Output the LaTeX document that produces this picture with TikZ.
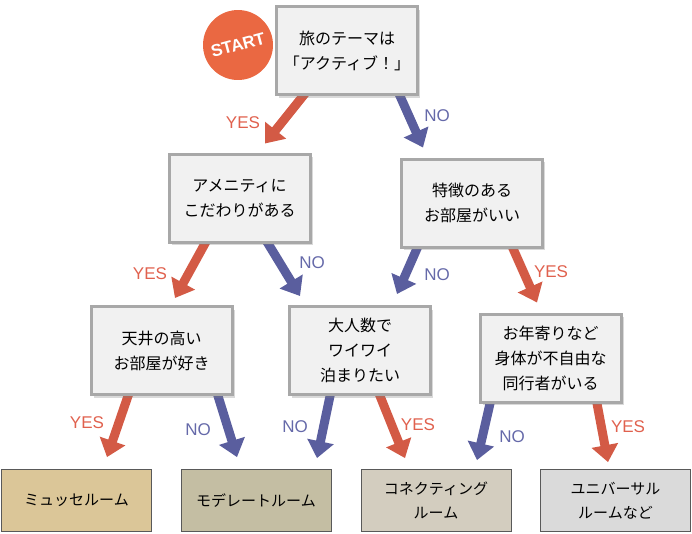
\documentclass[tikz,border=0pt]{standalone}
\usepackage{fontspec}
\setmainfont{Liberation Sans}
\newfontfamily\jpfont{Noto Sans CJK JP}
\usepackage{xcolor}
\usepackage{tikz}
\usetikzlibrary{arrows.meta,shadows,backgrounds}

\definecolor{yescol}{HTML}{D35A45}
\definecolor{nocol}{HTML}{5A5E9E}
\definecolor{yestext}{HTML}{E0614E}
\definecolor{notext}{HTML}{6569A9}
\definecolor{startcol}{HTML}{EA6842}
\definecolor{qfill}{HTML}{F1F1F1}
\definecolor{qline}{HTML}{A8A8A8}
\definecolor{roomA}{HTML}{DBC698}
\definecolor{roomB}{HTML}{C4BEA3}
\definecolor{roomC}{HTML}{D3CDBF}
\definecolor{roomD}{HTML}{DADADA}

\begin{document}
\begin{tikzpicture}[x=1pt,y=-1pt,
    question/.style={draw=qline, line width=3pt, fill=qfill, minimum width=141pt, minimum height=88pt,
      align=center, font=\jpfont\fontsize{16}{25}\selectfont,
      drop shadow={shadow xshift=2.5pt, shadow yshift=-3pt, opacity=0.3}},
    room/.style={draw=black!65, line width=0.8pt, minimum width=150pt, minimum height=62pt,
      align=center, font=\jpfont\fontsize{15}{24}\selectfont},
    yesarrow/.style={yescol, line width=9pt, -{Triangle[length=17pt,width=26pt]}, shorten <=-10pt},
    noarrow/.style={nocol, line width=9pt, -{Triangle[length=17pt,width=26pt]}, shorten <=-10pt},
    yeslabel/.style={text=yestext, font=\fontsize{17}{17}\selectfont},
    nolabel/.style={text=notext, font=\fontsize{17}{17}\selectfont}]
    \useasboundingbox (0,0) rectangle (692,533);

    % START
    \node[circle, fill=startcol, minimum size=70pt, inner sep=0pt, text=white,
      font=\bfseries\fontsize{17}{17}\selectfont, rotate=15] (start) at (238,45) {START};

    % questions
    \node[question] (q1) at (347,50.5) {旅のテーマは\\「アクティブ！」};
    \node[question] (q2) at (239.5,198) {アメニティに\\こだわりがある};
    \node[question] (q3) at (472,203) {特徴のある\\お部屋がいい};
    \node[question] (q4) at (161.5,350.5) {天井の高い\\お部屋が好き};
    \node[question] (q5) at (360,350.5) {大人数で\\ワイワイ\\泊まりたい};
    \node[question] (q6) at (550.5,358) {お年寄りなど\\身体が不自由な\\同行者がいる};

    % rooms
    \node[room, fill=roomA] (r1) at (76.5,500.5) {ミュッセルーム};
    \node[room, fill=roomB] (r2) at (256,500.5) {モデレートルーム};
    \node[room, fill=roomC] (r3) at (436,500.5) {コネクティング\\ルーム};
    \node[room, fill=roomD] (r4) at (615.5,500.5) {ユニバーサル\\ルームなど};

    % labels
    \node[yeslabel] (y1) at (243,123) {YES};
    \node[nolabel] (n1) at (437,116) {NO};
    \node[yeslabel] (y2) at (150,274) {YES};
    \node[nolabel] (n2) at (312,263) {NO};
    \node[nolabel] (n3) at (437,275) {NO};
    \node[yeslabel] (y3) at (551,272) {YES};
    \node[yeslabel] (y4) at (87,423) {YES};
    \node[nolabel] (n4) at (198,430) {NO};
    \node[nolabel] (n5) at (295,427) {NO};
    \node[yeslabel] (y5) at (418,425) {YES};
    \node[nolabel] (n6) at (512,437) {NO};
    \node[yeslabel] (y6) at (628,427) {YES};

    % arrows
    \begin{scope}[on background layer]
        \draw[yesarrow] ([xshift=-44pt]q1.south) -- ([xshift=25.5pt,yshift=9pt]q2.north);
        \draw[noarrow] ([xshift=53pt]q1.south) -- ([xshift=-49pt,yshift=10pt]q3.north);
        \draw[yesarrow] ([xshift=-34.5pt]q2.south) -- ([xshift=13.5pt,yshift=7pt]q4.north);
        \draw[noarrow] ([xshift=28.5pt]q2.south) -- ([xshift=-60pt,yshift=9pt]q5.north);
        \draw[noarrow] ([xshift=-55pt]q3.south) -- ([xshift=37pt,yshift=11pt]q5.north);
        \draw[yesarrow] ([xshift=41pt]q3.south) -- ([xshift=-13.5pt,yshift=10pt]q6.north);
        \draw[yesarrow] ([xshift=-33.5pt]q4.south) -- ([xshift=30.5pt,yshift=12pt]r1.north);
        \draw[noarrow] ([xshift=56.5pt]q4.south) -- ([xshift=-19pt,yshift=12pt]r2.north);
        \draw[noarrow] ([xshift=-30pt]q5.south) -- ([xshift=61pt,yshift=11pt]r2.north);
        \draw[yesarrow] ([xshift=20pt]q5.south) -- ([xshift=-31pt,yshift=11pt]r3.north);
        \draw[noarrow] ([xshift=-60.5pt]q6.south) -- ([xshift=41pt,yshift=9pt]r3.north);
        \draw[yesarrow] ([xshift=46.5pt]q6.south) -- ([xshift=-7.5pt,yshift=7pt]r4.north);
    \end{scope}
\end{tikzpicture}
\end{document}
